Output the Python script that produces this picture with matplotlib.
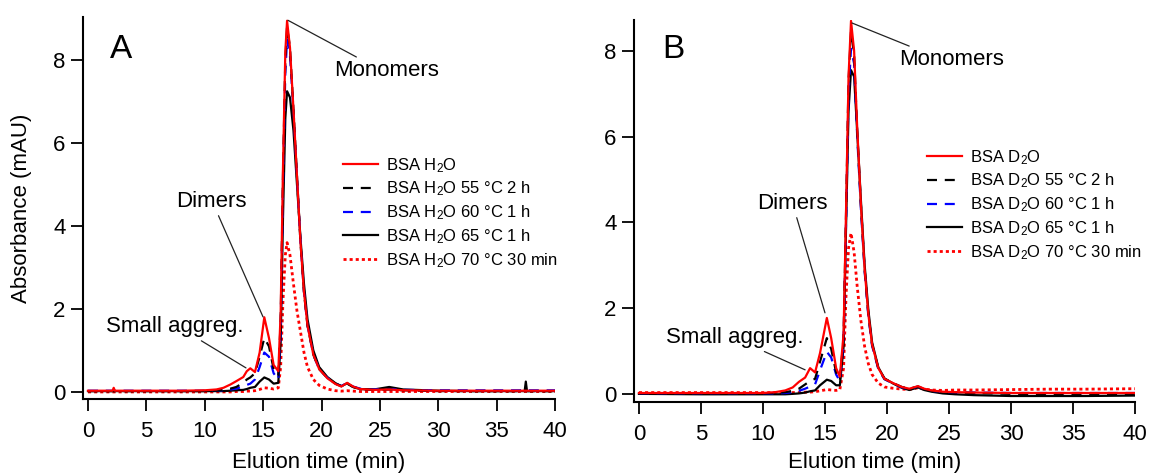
import matplotlib
matplotlib.use("Agg")
import matplotlib.pyplot as plt

plt.rcParams['font.family'] = ['Liberation Sans', 'DejaVu Sans']
plt.rcParams['mathtext.fontset'] = 'custom'
plt.rcParams['mathtext.rm'] = 'Liberation Sans'
plt.rcParams['mathtext.it'] = 'Liberation Sans:italic'

# ---------------- Panel A (H2O) ----------------
time_a = [0, 2.1, 2.2, 2.3, 5, 8, 10, 11, 11.6, 12.2, 12.7, 13.3, 13.6, 13.9, 14.3,
          14.7, 15.1, 15.5, 15.9, 16.3, 16.5, 16.7, 16.9, 17.05, 17.3, 17.6, 17.9,
          18.2, 18.5, 18.8, 19.3, 19.8, 20.5, 21.2, 21.7, 22.2, 22.7, 23.3, 24.5,
          25.8, 27, 30, 33, 36, 37.4, 37.5, 37.6, 40]
a_native = [0.03, 0.03, 0.10, 0.03, 0.03, 0.03, 0.04, 0.06, 0.10, 0.18, 0.26, 0.36, 0.50,
            0.57, 0.48, 0.95, 1.80, 1.30, 0.65, 0.50, 1.90, 5.40, 8.20, 8.95, 8.30, 6.80,
            5.20, 3.60, 2.40, 1.60, 0.90, 0.55, 0.33, 0.19, 0.13, 0.22, 0.13, 0.07, 0.05,
            0.06, 0.04, 0.03, 0.03, 0.03, 0.03, 0.03, 0.03, 0.03]
a_55 = [0.02, 0.02, 0.02, 0.02, 0.02, 0.02, 0.02, 0.03, 0.05, 0.08, 0.12, 0.22, 0.30,
        0.35, 0.45, 0.85, 1.30, 1.10, 0.55, 0.40, 1.70, 5.20, 8.00, 8.80, 8.30, 6.80,
        5.20, 3.60, 2.40, 1.60, 0.90, 0.55, 0.34, 0.20, 0.14, 0.20, 0.12, 0.07, 0.05,
        0.06, 0.04, 0.02, 0.02, 0.02, 0.02, 0.02, 0.02, 0.02]
a_60 = [0.03, 0.03, 0.03, 0.03, 0.03, 0.03, 0.03, 0.03, 0.04, 0.06, 0.08, 0.13, 0.17,
        0.20, 0.30, 0.60, 0.95, 0.85, 0.45, 0.30, 1.50, 5.00, 7.70, 8.50, 8.10, 6.80,
        5.20, 3.60, 2.40, 1.60, 0.90, 0.55, 0.34, 0.20, 0.14, 0.22, 0.13, 0.08, 0.06,
        0.07, 0.05, 0.04, 0.04, 0.04, 0.04, 0.04, 0.04, 0.04]
a_65 = [0.02, 0.02, 0.02, 0.02, 0.02, 0.02, 0.02, 0.02, 0.02, 0.03, 0.04, 0.05, 0.07,
        0.10, 0.12, 0.25, 0.35, 0.30, 0.20, 0.22, 1.20, 4.20, 6.60, 7.25, 7.10, 6.30,
        5.00, 3.70, 2.60, 1.75, 1.00, 0.60, 0.36, 0.21, 0.14, 0.21, 0.12, 0.07, 0.06,
        0.12, 0.06, 0.03, 0.02, 0.02, 0.02, 0.25, 0.02, 0.02]
a_70 = [0.00, 0.00, 0.00, 0.00, 0.00, 0.00, 0.00, 0.00, 0.00, 0.00, 0.01, 0.01, 0.02,
        0.02, 0.03, 0.06, 0.10, 0.09, 0.07, 0.10, 0.60, 2.20, 3.30, 3.60, 3.30, 2.60,
        1.95, 1.45, 0.95, 0.60, 0.30, 0.16, 0.07, 0.03, 0.02, 0.03, 0.02, 0.01, 0.01,
        0.01, 0.01, 0.01, 0.01, 0.01, 0.01, 0.01, 0.01, 0.01]

# ---------------- Panel B (D2O) ----------------
time_b = [0, 5, 8, 10, 11, 11.8, 12.4, 12.9, 13.4, 13.8, 14.2, 14.6, 15.15, 15.5, 15.9,
          16.2, 16.5, 16.7, 16.9, 17.1, 17.35, 17.6, 17.9, 18.2, 18.5, 18.8, 19.3,
          19.8, 20.5, 21.2, 21.8, 22.5, 23.0, 23.6, 24.5, 25.5, 27, 30, 33, 36, 40]
b_native = [0.02, 0.02, 0.02, 0.02, 0.04, 0.08, 0.15, 0.28, 0.38, 0.60, 0.50, 0.95, 1.77,
            1.30, 0.60, 0.40, 1.40, 4.30, 7.40, 8.70, 8.00, 6.20, 4.40, 2.90, 1.85, 1.15,
            0.60, 0.35, 0.25, 0.16, 0.12, 0.18, 0.12, 0.08, 0.05, 0.04, 0.03, 0.02, 0.02,
            0.02, 0.02]
b_55 = [0.01, 0.01, 0.01, 0.01, 0.02, 0.04, 0.07, 0.12, 0.22, 0.30, 0.35, 0.75, 1.30,
        1.05, 0.50, 0.32, 1.30, 4.20, 7.30, 8.45, 7.90, 6.10, 4.40, 2.90, 1.85, 1.15,
        0.60, 0.35, 0.25, 0.16, 0.12, 0.17, 0.11, 0.07, 0.04, 0.03, 0.02, 0.00, -0.01,
        -0.01, -0.02]
b_60 = [0.01, 0.01, 0.01, 0.01, 0.01, 0.02, 0.04, 0.07, 0.12, 0.17, 0.22, 0.55, 0.98,
        0.85, 0.45, 0.30, 1.20, 4.00, 7.00, 8.05, 7.70, 6.00, 4.30, 2.85, 1.80, 1.12,
        0.58, 0.34, 0.24, 0.15, 0.11, 0.17, 0.11, 0.07, 0.04, 0.03, 0.03, 0.02, 0.02,
        0.02, 0.02]
b_65 = [0.00, -0.01, -0.01, -0.01, -0.01, -0.01, 0.00, 0.01, 0.03, 0.06, 0.08, 0.20, 0.33,
        0.30, 0.20, 0.20, 1.10, 3.90, 6.60, 7.55, 7.40, 6.10, 4.50, 3.00, 1.95, 1.20,
        0.62, 0.36, 0.24, 0.14, 0.09, 0.15, 0.09, 0.05, 0.01, -0.01, -0.03, -0.05, -0.05,
        -0.05, -0.04]
b_70 = [0.03, 0.03, 0.03, 0.03, 0.03, 0.03, 0.03, 0.03, 0.04, 0.04, 0.05, 0.07, 0.10,
        0.09, 0.08, 0.10, 0.60, 2.30, 3.40, 3.75, 3.30, 2.50, 1.70, 1.10, 0.70, 0.45,
        0.25, 0.16, 0.13, 0.11, 0.10, 0.14, 0.11, 0.09, 0.08, 0.09, 0.09, 0.10, 0.11,
        0.11, 0.12]

labels_a = ["BSA H$_2$O", "BSA H$_2$O 55 °C 2 h", "BSA H$_2$O 60 °C 1 h",
            "BSA H$_2$O 65 °C 1 h", "BSA H$_2$O 70 °C 30 min"]
labels_b = ["BSA D$_2$O", "BSA D$_2$O 55 °C 2 h", "BSA D$_2$O 60 °C 1 h",
            "BSA D$_2$O 65 °C 1 h", "BSA D$_2$O 70 °C 30 min"]
x_ticks = [0, 5, 10, 15, 20, 25, 30, 35, 40]
y_ticks = [0, 2, 4, 6, 8]

styles = [dict(color='#ff0000', lw=1.6, ls='-'),
          dict(color='black', lw=1.6, dashes=(4.5, 3.5)),
          dict(color='#0000ff', lw=1.6, dashes=(4.5, 3.5)),
          dict(color='black', lw=1.6, ls='-'),
          dict(color='#ff0000', lw=2.0, dashes=(1.1, 1.1))]

fig = plt.figure(figsize=(11.55, 4.76), dpi=100)
W, H = 1155, 476
axA = fig.add_axes([83 / W, 1 - 399 / H, (555 - 83) / W, (399 - 17) / H])
axB = fig.add_axes([634 / W, 1 - 402 / H, (1135 - 634) / W, (402 - 20) / H])


def style_axis(ax, xlo, ylo, yhi):
    ax.set_xlim(xlo, 40)
    ax.set_ylim(ylo, yhi)
    for s in ['top', 'right']:
        ax.spines[s].set_visible(False)
    for s in ['left', 'bottom']:
        ax.spines[s].set_linewidth(1.5)
    ax.set_xticks(x_ticks)
    ax.set_yticks(y_ticks)
    ax.tick_params(direction='out', length=8.5, width=1.3, labelsize=16,
                   colors='black')
    ax.tick_params(axis='x', pad=7)
    ax.tick_params(axis='y', pad=4)
    ax.set_xlabel("Elution time (min)", fontsize=16)


seriesA = [a_native, a_55, a_60, a_65, a_70]
seriesB = [b_native, b_55, b_60, b_65, b_70]
linesA, linesB = [], []
order = [4, 3, 2, 1, 0]
for i in order:
    l, = axA.plot(time_a, seriesA[i], label=labels_a[i], **styles[i])
    linesA.append((i, l))
    l, = axB.plot(time_b, seriesB[i], label=labels_b[i], **styles[i])
    linesB.append((i, l))
linesA = [l for i, l in sorted(linesA, key=lambda t: t[0])]
linesB = [l for i, l in sorted(linesB, key=lambda t: t[0])]

style_axis(axA, -0.43, -0.17, 9.04)
style_axis(axB, -0.40, -0.19, 8.72)
axA.set_ylabel("Absorbance (mAU)", fontsize=16)
axA.yaxis.set_label_coords(-0.108, 0.5)
axA.xaxis.set_label_coords(0.5, -0.139)
axB.xaxis.set_label_coords(0.48, -0.131)

leg_kw = dict(loc='upper left', frameon=False, fontsize=12, handlelength=2.1,
              handletextpad=0.5, labelspacing=0.3, borderpad=0, borderaxespad=0,
              bbox_transform=fig.transFigure)
axA.legend(linesA, labels_a, bbox_to_anchor=(343 / W, 1 - 156 / H), **leg_kw)
axB.legend(linesB, labels_b, bbox_to_anchor=(927 / W, 1 - 148 / H), **leg_kw)

axA.text(1.88, 8.05, "A", fontsize=24, ha='left', va='baseline')
axB.text(1.85, 7.83, "B", fontsize=24, ha='left', va='baseline')

ann = dict(arrowstyle='-', lw=0.9, color='#222222', shrinkA=1, shrinkB=0)


def label(ax, text, xy, xytext, rel):
    a = dict(ann)
    a['relpos'] = rel
    ax.annotate(text, xy=xy, xytext=xytext, fontsize=16, ha='center', va='center',
                arrowprops=a)


label(axA, "Monomers", (17.13, 8.96), (25.6, 7.74), (0.27, 1.0))
label(axA, "Dimers", (14.99, 1.81), (10.54, 4.6), (0.58, 0.0))
label(axA, "Small aggreg.", (13.53, 0.58), (7.45, 1.57), (0.65, 0.0))
label(axB, "Monomers", (17.18, 8.65), (25.24, 7.79), (0.17, 1.0))
label(axB, "Dimers", (15.0, 1.89), (12.34, 4.45), (0.55, 0.0))
label(axB, "Small aggreg.", (13.4, 0.56), (7.74, 1.31), (0.66, 0.0))

fig.savefig("out.png", dpi=100)
